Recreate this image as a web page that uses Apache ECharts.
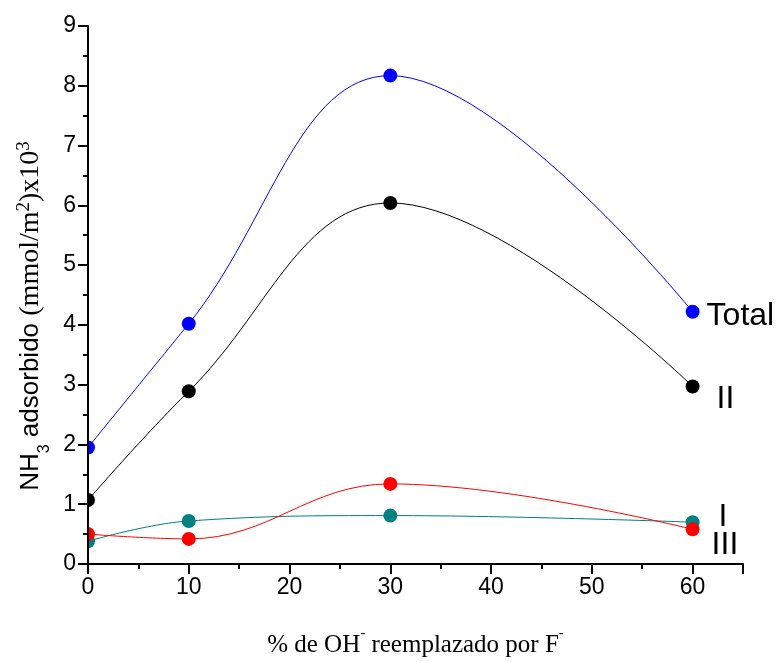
<!DOCTYPE html>
<html>
<head>
<meta charset="utf-8">
<script src="https://cdn.jsdelivr.net/npm/echarts@6/dist/echarts.min.js"></script>
<style>
  html, body { margin: 0; padding: 0; background: #fff; }
  #chart { width: 783px; height: 662px; }
</style>
</head>
<body>
<div id="chart"></div>
<script>
// % of OH- replaced by F-
const xValues = [0, 10, 30, 60];
// NH3 adsorbed (mmol/m2) x 10^3, per acid-site type
const totalValues = [1.95, 4.02, 8.17, 4.22];
const siteII = [1.07, 2.89, 6.04, 2.97];
const siteI = [0.38, 0.72, 0.81, 0.70];
const siteIII = [0.50, 0.42, 1.34, 0.58];

const sans = '"Liberation Sans", Arial, sans-serif';
const serif = '"Liberation Serif", "Times New Roman", serif';

function buildSeries(name, values, color, tag, labelOffset) {
  const data = values.map((v, i) => {
    const item = { value: [xValues[i], v] };
    if (i === values.length - 1) {
      item.label = {
        show: true, position: 'right', formatter: tag,
        offset: labelOffset, color: '#000', fontFamily: sans, fontSize: 32
      };
    }
    return item;
  });
  return {
    name, type: 'line', data, smooth: 0.4, z: 2, clip: false,
    symbol: 'circle', symbolSize: 14,
    itemStyle: { color },
    lineStyle: { color, width: 1 },
    emphasis: { disabled: true }
  };
}

const chart = echarts.init(document.getElementById('chart'), null, { renderer: 'canvas' });
chart.setOption({
  animation: false,
  backgroundColor: '#fff',
  grid: { left: 88, right: 40, top: 26, bottom: 98, containLabel: false, outerBoundsMode: 'none' },
  xAxis: {
    type: 'value', min: 0, max: 65, interval: 10, z: 5,
    name: '{t|% de OH}{sup|-}{t| reemplazado por F}{sup|-}',
    nameLocation: 'middle', nameGap: 62,
    nameTextStyle: {
      rich: {
        t: { fontFamily: serif, fontSize: 25, color: '#000', lineHeight: 32, verticalAlign: 'bottom' },
        sup: { fontFamily: serif, fontSize: 15, color: '#000', lineHeight: 32, verticalAlign: 'top' }
      }
    },
    axisLine: { show: true, onZero: false, lineStyle: { color: '#000', width: 2 } },
    axisTick: { show: true, inside: false, length: 10, lineStyle: { color: '#000', width: 2 } },
    minorTick: { show: true, splitNumber: 2, length: 5, lineStyle: { color: '#000', width: 2 } },
    axisLabel: {
      color: '#000', fontFamily: sans, fontSize: 23, margin: 12,
      formatter: v => (v % 10 === 0 ? String(v) : '')
    },
    splitLine: { show: false }
  },
  yAxis: {
    type: 'value', min: 0, max: 9, interval: 1, z: 5,
    name: '{s|NH}{sub|3}{s| adsorbido }{t|(mmol/m}{sup|2}{t|)x10}{sup|3}',
    nameLocation: 'middle', nameRotate: 90, nameGap: 43,
    nameTextStyle: {
      padding: [0, 42, 0, 0],
      rich: {
        s: { fontFamily: sans, fontSize: 26, color: '#000', lineHeight: 30, verticalAlign: 'bottom' },
        sub: { fontFamily: sans, fontSize: 16, color: '#000', lineHeight: 30, verticalAlign: 'bottom', padding: [0, 0, -8, 0] },
        t: { fontFamily: serif, fontSize: 28, color: '#000', lineHeight: 30, verticalAlign: 'bottom' },
        sup: { fontFamily: serif, fontSize: 19, color: '#000', lineHeight: 30, verticalAlign: 'top', padding: [0, 0, 6, 0] }
      }
    },
    axisLine: { show: true, onZero: false, lineStyle: { color: '#000', width: 2 } },
    axisTick: { show: true, inside: false, length: 10, lineStyle: { color: '#000', width: 2 } },
    minorTick: { show: true, splitNumber: 2, length: 5, lineStyle: { color: '#000', width: 2 } },
    axisLabel: { color: '#000', fontFamily: sans, fontSize: 23, margin: 12 },
    splitLine: { show: false }
  },
  // white mask left of the plot so markers sitting on x = 0 are cut at the axis
  graphic: [{
    type: 'rect', z: 3, silent: true,
    shape: { x: 0, y: 0, width: 87, height: 565 },
    style: { fill: '#fff' }
  }],
  series: [
    buildSeries('Total', totalValues, '#0000ff', 'Total', [2, 4]),
    buildSeries('II', siteII, '#000000', 'II', [12, 13]),
    buildSeries('I', siteI, '#008080', 'I', [14, -5]),
    buildSeries('III', siteIII, '#ff0000', 'III', [7, 16])
  ]
});
</script>
</body>
</html>
